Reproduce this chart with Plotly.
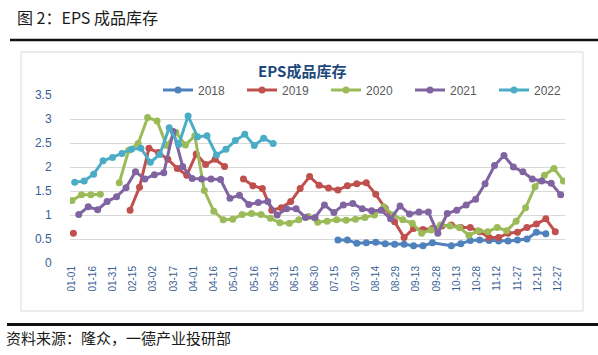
import pandas as pd
import plotly.graph_objects as go

# ---------------- data ----------------
series_names = ["2018", "2019", "2020", "2021", "2022"]
series_colors = ["#4f81bd", "#c0504d", "#9bbb59", "#8064a2", "#4bacc6"]
# first weekly observation of each series (mapped onto a common year axis)
series_start = ["2018-07-17", "2018-01-02", "2018-01-01", "2018-01-06", "2018-01-03"]

v2018 = [0.48, 0.48, 0.41, 0.42, 0.43, 0.40, 0.39, 0.39, 0.36, 0.36, 0.42, None,
         0.36, 0.40, 0.47, 0.48, 0.47, 0.46, 0.46, 0.48, 0.50, 0.64, 0.61]
v2019 = [0.62, None, None, None, None, None, 1.10, 1.58, 2.39, 2.30, 2.16, 1.97,
         1.83, 2.27, 2.05, 2.16, 2.01, None, 1.75, 1.61, 1.55, 1.10, 1.15, 1.28,
         1.55, 1.80, 1.62, 1.56, 1.52, 1.61, 1.65, 1.67, 1.43, 1.14, 0.86, 0.53,
         0.72, 0.70, 0.72, 0.77, 0.79, 0.74, 0.74, 0.65, 0.53, 0.53, 0.62, 0.64,
         0.74, 0.81, 0.92, 0.65]
v2020 = [1.30, 1.42, 1.42, 1.43, None, 1.67, 2.35, 2.49, 3.03, 2.96, 2.45, 2.72,
         2.46, 2.65, 1.51, 1.08, 0.90, 0.91, 1.01, 1.03, 1.01, 0.93, 0.84, 0.83,
         0.90, 0.97, 0.85, 0.87, 0.90, 0.89, 0.91, 0.95, 1.00, 1.17, 1.00, 0.90,
         0.83, 0.62, 0.69, 0.79, 0.77, 0.74, 0.58, 0.67, 0.65, 0.74, 0.67, 0.87,
         1.15, 1.59, 1.83, 1.97, 1.71]
v2021 = [1.01, 1.17, 1.11, 1.28, 1.38, 1.57, 1.90, 1.75, 1.84, 1.88, 2.74, 2.01,
         1.76, 1.75, 1.75, 1.74, 1.35, 1.41, 1.22, 1.26, 1.28, 1.00, 1.13, 1.13,
         0.95, 0.95, 1.21, 1.05, 1.21, 1.24, 1.13, 1.09, 1.10, 0.92, 1.19, 1.02,
         1.06, 1.06, 0.62, 1.03, 1.10, 1.21, 1.33, 1.65, 2.03, 2.24, 2.00, 1.90,
         1.75, 1.71, 1.66, 1.42]
v2022 = [1.68, 1.71, 1.85, 2.13, 2.20, 2.28, 2.37, 2.39, 2.10, 2.26, 2.82, 2.47,
         3.06, 2.63, 2.65, 2.25, 2.37, 2.55, 2.68, 2.45, 2.60, 2.49]
series_values = [v2018, v2019, v2020, v2021, v2022]

y_ticks = [0, 0.5, 1, 1.5, 2, 2.5, 3, 3.5]
y_tick_text = ["0", "0.5", "1", "1.5", "2", "2.5", "3", "3.5"]
x_tick_start = "2018-01-01"

header_text = "图 2：EPS 成品库存"
chart_title = "EPS成品库存"
source_text = "资料来源：隆众，一德产业投研部"

# ---------------- layout geometry ----------------
W, H = 598, 355
ML, MR, MT, MB = 70, 33, 95, 92
PW, PH = W - ML - MR, H - MT - MB


def px(x):
    return (x - ML) / PW


def py(y):
    return (H - MB - y) / PH


fig = go.Figure()
for name, color, start, vals in zip(series_names, series_colors, series_start, series_values):
    dates = pd.date_range(start=start, periods=len(vals), freq="7D")
    fig.add_trace(go.Scatter(
        x=dates, y=vals, name=name, mode="lines+markers",
        line=dict(color=color, width=3),
        marker=dict(color=color, size=7),
        connectgaps=(name == "2018"),
        hoverinfo="skip",
    ))

tick_font = dict(family="Liberation Sans, Arial, sans-serif", size=10, color="#3b5f94")

fig.update_xaxes(
    type="date",
    range=["2017-12-30 12:00", "2019-01-01 05:00"],
    tick0=x_tick_start, dtick=15 * 86400000,
    tickformat="%m-%d", tickangle=-90,
    tickfont=tick_font,
    showgrid=False, zeroline=False, showline=False,
    ticks="", fixedrange=True,
)
fig.update_yaxes(
    range=[0, 3.5],
    tickvals=y_ticks, ticktext=y_tick_text,
    tickfont=dict(family="Liberation Sans, Arial, sans-serif", size=12, color="#3b5f94"),
    showgrid=True, gridcolor="#d9d9d9", gridwidth=1,
    zeroline=False, showline=False, ticks="outside", ticklen=15, tickcolor="rgba(0,0,0,0)",
    fixedrange=True,
)

shapes = [
    # header rule
    dict(type="line", xref="paper", yref="paper", x0=px(10), x1=px(598), y0=py(40), y1=py(40),
         line=dict(color="#111111", width=2.5)),
    # chart frame
    dict(type="rect", xref="paper", yref="paper", x0=px(21), x1=px(583), y0=py(311), y1=py(52),
         line=dict(color="#d9d9d9", width=1), layer="below"),
    # footer rule
    dict(type="line", xref="paper", yref="paper", x0=px(7), x1=px(598), y0=py(324.5), y1=py(324.5),
         line=dict(color="#111111", width=3)),
]

annotations = [
    dict(text=header_text, xref="paper", yref="paper", x=px(15), y=py(17), xanchor="left",
         yanchor="middle", showarrow=False,
         font=dict(family="Noto Sans CJK SC", size=16, color="#1a1a1a")),
    dict(text="<b>" + chart_title + "</b>", xref="paper", yref="paper", x=px(302), y=py(70),
         xanchor="center", yanchor="middle", showarrow=False,
         font=dict(family="Noto Sans CJK SC", size=15, color="#1f497d")),
    dict(text=source_text, xref="paper", yref="paper", x=px(4), y=py(337), xanchor="left",
         yanchor="middle", showarrow=False,
         font=dict(family="Noto Sans CJK SC", size=15, color="#1a1a1a")),
]

fig.update_layout(
    width=W, height=H,
    margin=dict(l=ML, r=MR, t=MT, b=MB, pad=0),
    paper_bgcolor="white", plot_bgcolor="white",
    showlegend=True,
    legend=dict(orientation="h", x=px(158), xanchor="left", y=py(90), yanchor="middle",
                font=dict(family="Liberation Sans, Arial, sans-serif", size=12, color="#595959"),
                entrywidth=39, entrywidthmode="pixels", itemwidth=30,
                bgcolor="rgba(0,0,0,0)", borderwidth=0),
    shapes=shapes,
    annotations=annotations,
    hovermode=False,
)

fig.write_html("out.html", config={"displayModeBar": False, "staticPlot": True},
               post_script="document.body.style.margin='0';document.body.style.overflow='hidden';")
